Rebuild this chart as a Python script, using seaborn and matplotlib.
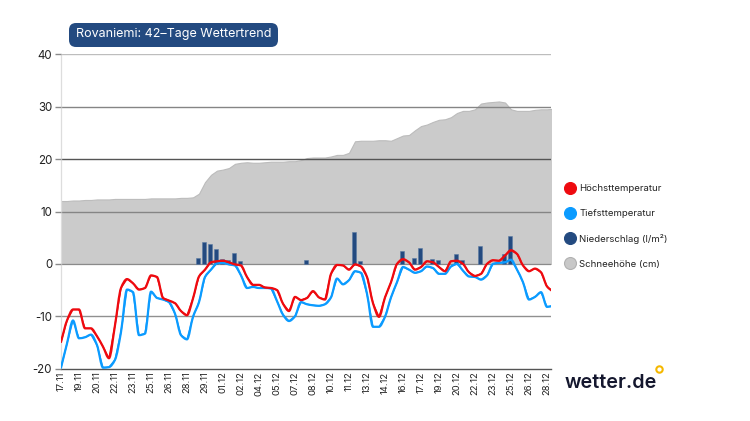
import numpy as np
import pandas as pd
import matplotlib
matplotlib.use("Agg")
import matplotlib.pyplot as plt
from matplotlib.lines import Line2D
from matplotlib.patches import FancyBboxPatch, PathPatch
from matplotlib.path import Path
from matplotlib.transforms import IdentityTransform
import seaborn as sns

tick_labels = ["17.11","19.11","20.11","22.11","23.11","25.11","26.11","28.11","29.11","01.12",
               "02.12","04.12","05.12","07.12","08.12","10.12","11.12","13.12","14.12","16.12",
               "17.12","19.12","20.12","22.12","23.12","25.12","26.12","28.12"]
y_labels = ["-20", "-10", "0", "10", "20", "30", "40"]

# half-day steps from 17.11
high = [-14.9,-10.8,-8.7,-8.7,-12.3,-12.3,-13.8,-15.8,-18.0,-11.7,-4.6,-2.9,-3.7,-4.9,-4.6,-2.2,-2.5,-6.5,-7.0,-7.5,
        -9.0,-9.8,-6.6,-2.4,-1.1,0.3,0.5,0.6,0.3,-0.1,-0.3,-2.5,-4.0,-4.0,-4.5,-4.6,-5.0,-7.6,-9.0,-6.3,
        -6.9,-6.5,-5.2,-6.4,-6.8,-1.9,-0.2,-0.3,-1.1,-0.1,-0.5,-2.5,-7.5,-10.1,-6.4,-3.5,0.0,0.9,0.3,-1.1,
        -0.6,0.5,0.3,-0.6,-1.4,0.5,0.6,0.0,-1.6,-2.3,-1.9,0.0,0.7,0.6,1.6,2.6,1.9,-0.3,-1.4,-0.9,
        -1.6,-4.3,-5.3]
low = [-19.8,-15.2,-10.8,-14.2,-14.0,-13.5,-15.5,-19.8,-19.7,-18.3,-13.0,-4.9,-5.4,-13.6,-13.3,-5.3,-6.5,-6.8,-7.3,-9.5,
       -13.6,-14.4,-10.1,-7.3,-2.5,-1.1,0.1,0.2,-0.1,-0.3,-2.2,-4.6,-4.4,-4.6,-4.6,-4.7,-7.1,-9.7,-10.9,-10.0,
       -7.3,-7.7,-7.9,-8.0,-7.7,-6.4,-2.8,-3.9,-3.1,-1.4,-1.7,-5.7,-12.0,-12.0,-10.1,-6.4,-3.5,-0.6,-1.1,-1.7,
       -1.4,-0.5,-0.8,-1.9,-1.9,-0.5,0.0,-1.3,-2.4,-2.5,-3.0,-2.2,0.0,0.2,0.3,0.8,-1.1,-3.5,-6.8,-6.3,
       -5.4,-8.2,-8.0]
snow = [12.0,12.0,12.1,12.1,12.2,12.2,12.3,12.3,12.3,12.4,12.4,12.4,12.4,12.4,12.4,12.5,12.5,12.5,12.5,12.5,
        12.6,12.6,12.7,13.4,15.6,17.0,17.8,18.0,18.3,19.1,19.3,19.4,19.3,19.3,19.4,19.5,19.5,19.5,19.6,19.6,
        19.8,20.2,20.3,20.3,20.3,20.5,20.8,20.8,21.2,23.4,23.5,23.5,23.5,23.6,23.6,23.5,24.0,24.5,24.6,25.5,
        26.3,26.6,27.1,27.5,27.6,28.0,28.8,29.2,29.2,29.5,30.6,30.8,30.9,31.0,30.8,29.5,29.2,29.2,29.2,29.4,
        29.5,29.5,29.6]
precip_step = [23,24,25,26,27,28,29,30,41,49,50,57,59,60,62,63,66,67,70,74,75]
precip = [1.2,4.1,3.8,2.8,1.0,0.7,2.0,0.6,0.7,6.0,0.6,2.4,1.2,3.0,1.0,0.8,1.9,0.7,3.5,1.8,5.3]

sns.set_theme(style="white")
plt.rcParams["font.family"] = ["Inter", "DejaVu Sans"]

W, H = 750, 421
fig = plt.figure(figsize=(W/100, H/100), dpi=100, facecolor="white")
x0, x1, ytop, ybot = 61, 551, 54.3, 368.7
ax = fig.add_axes([x0/W, 1-ybot/H, (x1-x0)/W, (ybot-ytop)/H])

df = pd.DataFrame({"step": np.arange(len(high)), "high": high, "low": low, "snow": snow})
pdf = pd.DataFrame({"step": precip_step, "precip": precip})

RED, BLUE, NAVY, GREY = "#ee0a0f", "#0b9bff", "#234a80", "#cbcbcb"

ax.fill_between(df["step"], 0, df["snow"], facecolor=GREY, lw=0.8, edgecolor="#bcbcbc", zorder=1)
ax.set_axisbelow(False)
for v, c, lw in [(40,"#bdbdbd",1.0),(30,"#858585",1.0),(20,"#555555",1.0),(10,"#858585",1.0),(0,"#8a8a8a",0.9),(-10,"#909090",1.0)]:
    ax.axhline(v, color=c, lw=lw, zorder=2)
ax.bar(pdf["step"]-0.17, pdf["precip"], width=0.68, color=NAVY, edgecolor="#5b7aa3", linewidth=0.4, zorder=3)
sns.lineplot(data=df, x="step", y="low", color=BLUE, lw=1.0, ax=ax, zorder=4, errorbar=None)
sns.lineplot(data=df, x="step", y="high", color=RED, lw=1.0, ax=ax, zorder=5, errorbar=None)

# the reference draws its lines as smooth curves: same points, monotone Bezier pen
def smooth_pen(line, width, zorder):
    xy = np.asarray(line.get_xydata())
    d = np.diff(xy[:, 1])
    m = np.zeros(len(xy))
    same = d[:-1] * d[1:] > 0
    m[1:-1][same] = 2 * d[:-1][same] * d[1:][same] / (d[:-1][same] + d[1:][same])
    m[0], m[-1] = d[0], d[-1]
    verts, codes = [xy[0]], [Path.MOVETO]
    for i in range(len(xy) - 1):
        verts += [xy[i] + np.array([1/3, m[i]/3]), xy[i+1] - np.array([1/3, m[i+1]/3]), xy[i+1]]
        codes += [Path.CURVE4] * 3
    ax.add_patch(PathPatch(Path(verts, codes), fill=False, ec=line.get_color(), lw=width,
                           zorder=zorder, joinstyle="round", capstyle="round"))
smooth_pen(ax.lines[-2], 1.6, 4)
smooth_pen(ax.lines[-1], 1.6, 5)

ax.set_xlim(0, (x1-x0)/6)
ax.set_ylim(-20, 40)
ax.set_xlabel(""); ax.set_ylabel("")
ax.set_xticks(np.arange(len(tick_labels))*3)
ax.set_xticklabels(tick_labels, rotation=90, fontsize=6.8, color="#222222", ha="center", va="top")
ax.set_yticks(np.arange(-20, 41, 10))
ax.set_yticklabels(y_labels)
ax.tick_params(axis="x", length=0, pad=2)
ax.tick_params(axis="y", length=4.3, width=1, color="#8a8a8a", pad=2, labelsize=8.3, labelcolor="#222222", left=True)
for s in ("top","right"):
    ax.spines[s].set_visible(False)
ax.spines["left"].set_color("#dddddd"); ax.spines["left"].set_linewidth(0.9)
ax.spines["bottom"].set_color("#555555"); ax.spines["bottom"].set_linewidth(1.0)

# title pill
fig.add_artist(FancyBboxPatch((75, H-41), 197, 12, transform=IdentityTransform(),
               boxstyle="round,pad=6,rounding_size=7", fc=NAVY, ec=NAVY, lw=0))
fig.text(173.5/W, 1-34.5/H, "Rovaniemi: 42–Tage Wettertrend", color="white", fontsize=9.0,
         ha="center", va="center")

# legend
handles = [Line2D([], [], ls="", marker="o", ms=8.6, mfc=c, mec=e, mew=0.8)
           for c, e in [(RED,RED),(BLUE,BLUE),(NAVY,NAVY),("#c8c8c8","#b0b0b0")]]
labels = ["Höchsttemperatur", "Tiefsttemperatur", "Niederschlag (l/m²)", "Schneehöhe (cm)"]
fig.legend(handles, labels, loc="upper left", bbox_to_anchor=(560/W, 1-184/H), bbox_transform=fig.transFigure,
           frameon=False, fontsize=6.9, labelspacing=1.66, handletextpad=0.0, handlelength=2.0,
           borderpad=0, borderaxespad=0, labelcolor="#222222")

# logo
fig.text(565/W, 1-388.5/H, "wetter.de", color="#14172e", fontsize=14.2, fontweight="semibold",
         ha="left", va="baseline")
fig.add_artist(Line2D([658.5/W], [1-369/H], transform=fig.transFigure, marker="o", ms=4.6, mfc="white",
                      mec="#f5b800", mew=1.5, ls=""))

fig.savefig("out.png", dpi=100)
